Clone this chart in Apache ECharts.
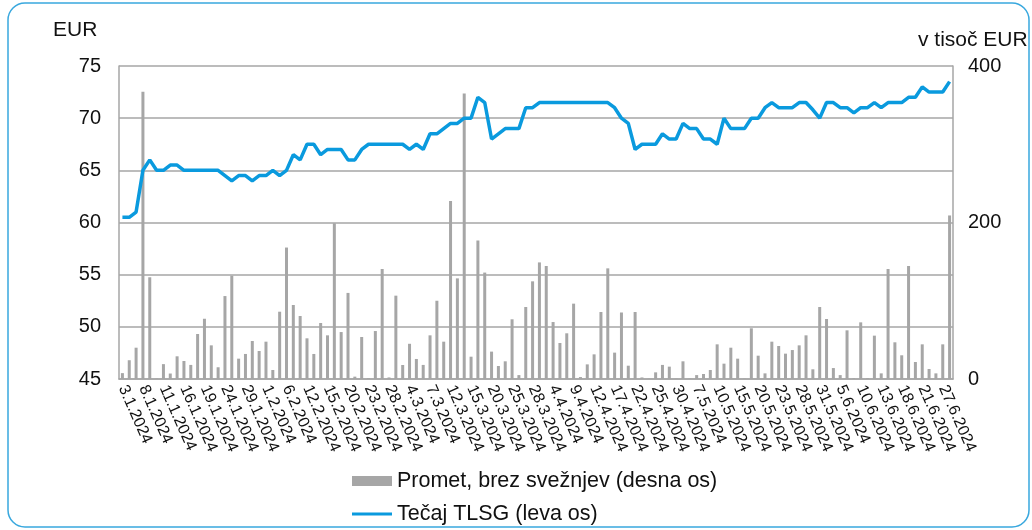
<!DOCTYPE html>
<html>
<head>
<meta charset="utf-8">
<script src="https://cdn.jsdelivr.net/npm/echarts@6/dist/echarts.min.js"></script>
<style>
  html, body { margin: 0; padding: 0; background: #fff; }
  #chart { width: 1032px; height: 530px; }
</style>
</head>
<body>
<div id="chart"></div>
<script>
// trading days, Ljubljana stock exchange, H1 2024
var days = [
  '3.1.2024', '4.1.2024', '5.1.2024', '8.1.2024', '9.1.2024', '10.1.2024', '11.1.2024', '12.1.2024', '15.1.2024', '16.1.2024',
  '17.1.2024', '18.1.2024', '19.1.2024', '22.1.2024', '23.1.2024', '24.1.2024', '25.1.2024', '26.1.2024', '29.1.2024', '30.1.2024',
  '31.1.2024', '1.2.2024', '2.2.2024', '5.2.2024', '6.2.2024', '7.2.2024', '9.2.2024', '12.2.2024', '13.2.2024', '14.2.2024',
  '15.2.2024', '16.2.2024', '19.2.2024', '20.2.2024', '21.2.2024', '22.2.2024', '23.2.2024', '26.2.2024', '27.2.2024', '28.2.2024',
  '29.2.2024', '1.3.2024', '4.3.2024', '5.3.2024', '6.3.2024', '7.3.2024', '8.3.2024', '11.3.2024', '12.3.2024', '13.3.2024',
  '14.3.2024', '15.3.2024', '18.3.2024', '19.3.2024', '20.3.2024', '21.3.2024', '22.3.2024', '25.3.2024', '26.3.2024', '27.3.2024',
  '28.3.2024', '2.4.2024', '3.4.2024', '4.4.2024', '5.4.2024', '8.4.2024', '9.4.2024', '10.4.2024', '11.4.2024', '12.4.2024',
  '15.4.2024', '16.4.2024', '17.4.2024', '18.4.2024', '19.4.2024', '22.4.2024', '23.4.2024', '24.4.2024', '25.4.2024', '26.4.2024',
  '29.4.2024', '30.4.2024', '3.5.2024', '6.5.2024', '7.5.2024', '8.5.2024', '9.5.2024', '10.5.2024', '13.5.2024', '14.5.2024',
  '15.5.2024', '16.5.2024', '17.5.2024', '20.5.2024', '21.5.2024', '22.5.2024', '23.5.2024', '24.5.2024', '27.5.2024', '28.5.2024',
  '29.5.2024', '30.5.2024', '31.5.2024', '3.6.2024', '4.6.2024', '5.6.2024', '6.6.2024', '7.6.2024', '10.6.2024', '11.6.2024',
  '12.6.2024', '13.6.2024', '14.6.2024', '17.6.2024', '18.6.2024', '19.6.2024', '20.6.2024', '21.6.2024', '24.6.2024', '26.6.2024',
  '27.6.2024', '28.6.2024'
]

// Promet, brez svežnjev (v tisoč EUR) - right axis
var turnover = [
  7.5, 24, 40, 367, 130, 0.5, 19, 7, 29, 23,
  18, 57.5, 77, 43, 15, 106, 132, 26, 32, 48.6,
  35.8, 47.7, 11.5, 86, 168, 94.6, 80.5, 52, 32, 71.6,
  55.8, 199, 60, 110, 3, 53.7, 1, 61.3, 140.6, 2,
  106.5, 17.9, 45, 25.6, 18, 55.8, 100, 47.7, 227.5, 128.6,
  365, 28.5, 177, 136, 35, 16.6, 22.6, 76.3, 5, 92,
  124.8, 149, 144.4, 72.8, 46, 58.4, 96.3, 2.5, 18.7, 31.5,
  85.6, 141.4, 33.7, 85, 17, 85.6, 2, 0.5, 8.5, 18,
  15.8, 0.5, 22.6, 0.5, 5, 6.4, 11.5, 44.3, 19.6, 40,
  26, 0.5, 64.8, 29.8, 7.2, 47.7, 42.2, 32.4, 37, 43,
  55.8, 12.4, 92, 76.7, 14, 5, 62.2, 1, 72.4, 1,
  55.4, 7.2, 140.6, 46.9, 30.3, 144.4, 21.7, 44.3, 12.8, 7.2,
  44.3, 209
]

// Tečaj TLSG (EUR) - left axis
var price = [
  60.5, 60.5, 61, 65, 66, 65, 65, 65.5, 65.5, 65,
  65, 65, 65, 65, 65, 64.5, 64, 64.5, 64.5, 64,
  64.5, 64.5, 65, 64.5, 65, 66.5, 66, 67.5, 67.5, 66.5,
  67, 67, 67, 66, 66, 67, 67.5, 67.5, 67.5, 67.5,
  67.5, 67.5, 67, 67.5, 67, 68.5, 68.5, 69, 69.5, 69.5,
  70, 70, 72, 71.5, 68, 68.5, 69, 69, 69, 71,
  71, 71.5, 71.5, 71.5, 71.5, 71.5, 71.5, 71.5, 71.5, 71.5,
  71.5, 71.5, 71, 70, 69.5, 67, 67.5, 67.5, 67.5, 68.5,
  68, 68, 69.5, 69, 69, 68, 68, 67.5, 70, 69,
  69, 69, 70, 70, 71, 71.5, 71, 71, 71, 71.5,
  71.5, 70.8, 70, 71.5, 71.5, 71, 71, 70.5, 71, 71,
  71.5, 71, 71.5, 71.5, 71.5, 72, 72, 73, 72.5, 72.5,
  72.5, 73.5
]

var barName = 'Promet, brez svežnjev (desna os)'
var lineName = 'Tečaj TLSG (leva os)'

var font = 'Liberation Sans, Arial, sans-serif'
var grey = '#a6a6a6'

var chart = echarts.init(document.getElementById('chart'))

chart.setOption({
  animation: false,
  textStyle: { fontFamily: font },
  grid: { left: 119, right: 79, top: 66, bottom: 151, containLabel: false },
  graphic: [
    {
      type: 'rect',
      shape: { x: 8, y: 3, width: 1021, height: 524, r: 17 },
      style: { fill: 'none', stroke: '#39a8de', lineWidth: 1.5 }
    },
    {
      type: 'text',
      left: 53,
      top: 20,
      style: { text: 'EUR', fontSize: 21, fontFamily: font, fill: '#111' }
    },
    {
      type: 'text',
      left: 918,
      top: 30,
      style: { text: 'v tisoč EUR', fontSize: 21, fontFamily: font, fill: '#111' }
    }
  ],
  legend: [
    {
      data: [{ name: barName, icon: 'rect' }],
      left: 352,
      top: 470,
      padding: 0,
      itemWidth: 40,
      itemHeight: 10,
      textStyle: { fontSize: 21.5, color: '#111', fontFamily: font }
    },
    {
      data: [{ name: lineName, icon: 'rect' }],
      left: 352,
      top: 503,
      padding: 0,
      itemWidth: 40,
      itemHeight: 3,
      textStyle: { fontSize: 21.5, color: '#111', fontFamily: font }
    }
  ],
  xAxis: [
    {
      type: 'category',
      data: days,
      boundaryGap: true,
      axisLine: { lineStyle: { color: grey, width: 1.5 } },
      axisTick: { interval: 0, length: 4, lineStyle: { color: grey } },
      axisLabel: {
        interval: 2,
        rotate: -66,
        fontSize: 16,
        color: '#111',
        margin: 7
      }
    },
    {
      // inner half of the crossing tick marks
      type: 'category',
      data: days,
      position: 'bottom',
      axisLine: { show: false },
      axisTick: { interval: 0, inside: true, length: 4, lineStyle: { color: grey } },
      axisLabel: { show: false }
    }
  ],
  yAxis: [
    {
      type: 'value',
      min: 45,
      max: 75,
      interval: 5,
      axisLine: { show: true, lineStyle: { color: grey, width: 1.5 } },
      axisTick: { show: false },
      splitLine: { lineStyle: { color: grey, width: 1.5 } },
      axisLabel: { fontSize: 20, color: '#111', margin: 18 }
    },
    {
      type: 'value',
      min: 0,
      max: 400,
      interval: 200,
      position: 'right',
      axisLine: { show: true, lineStyle: { color: grey, width: 1.5 } },
      axisTick: { show: false },
      splitLine: { show: false },
      axisLabel: { fontSize: 20, color: '#111', margin: 15 }
    }
  ],
  series: [
    {
      name: barName,
      type: 'bar',
      yAxisIndex: 1,
      barWidth: 3,
      itemStyle: { color: grey },
      data: turnover
    },
    {
      name: lineName,
      type: 'line',
      yAxisIndex: 0,
      showSymbol: false,
      symbol: 'none',
      lineStyle: { color: '#0a9ade', width: 3.5 },
      itemStyle: { color: '#0a9ade' },
      z: 5,
      data: price
    }
  ]
})
</script>
</body>
</html>
